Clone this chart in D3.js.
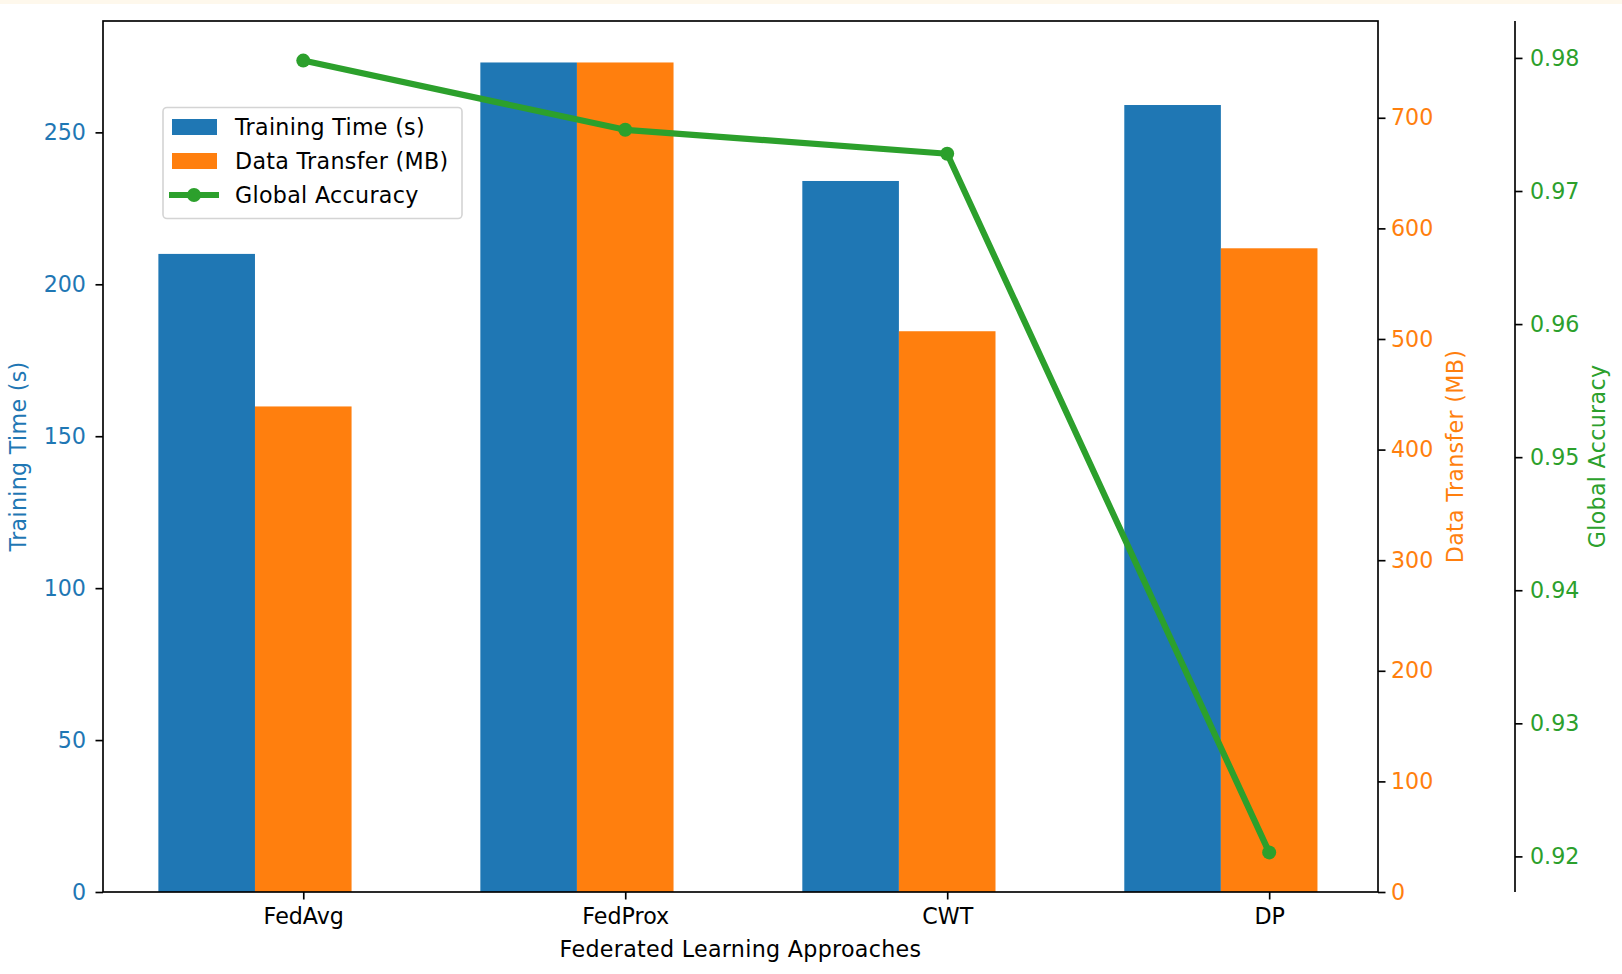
<!DOCTYPE html>
<html>
<head>
<meta charset="utf-8">
<script src="https://cdn.jsdelivr.net/npm/d3@7"></script>
<style>
  html, body { margin: 0; padding: 0; background: #fff; }
  svg { display: block; font-family: "DejaVu Sans", sans-serif; }
</style>
</head>
<body>
<svg id="chart" width="1622" height="974"></svg>
<script>
const approaches = ['FedAvg', 'FedProx', 'CWT', 'DP'];
const trainingTime = [210, 273, 234, 259];
const dataTransfer = [439, 750, 507, 582];
const globalAccuracy = [0.9798, 0.9746, 0.9728, 0.9203];

const timeTicks = [0, 50, 100, 150, 200, 250];
const transferTicks = [0, 100, 200, 300, 400, 500, 600, 700];
const accuracyTicks = [0.92, 0.93, 0.94, 0.95, 0.96, 0.97, 0.98];

const blue = '#1f77b4';
const orange = '#ff7f0e';
const green = '#2ca02c';
const fontSize = 22.2;
const barWidth = 0.3;

const plotLeft = 103, plotRight = 1378, plotTop = 21, plotBottom = 892;
const accAxisX = 1515;

const svg = d3.select('#chart');

// thin cream strip along the top of the page
svg.append('rect')
    .attr('x', 0).attr('y', 0)
    .attr('width', 1622).attr('height', 4)
    .attr('fill', '#fef8ec');

// x: category index, with ~5% margins round the bar extents
const xMin = -barWidth * 1.5, xMax = approaches.length - 1 + barWidth / 2;
const xPad = (xMax - xMin) * 0.05;
const x = d3.scaleLinear()
    .domain([xMin - xPad + 0.008, xMax + xPad + 0.008])
    .range([plotLeft, plotRight]);

const yTime = d3.scaleLinear()
    .domain([0, d3.max(trainingTime) * 1.05])
    .range([plotBottom, plotTop]);

const yTransfer = d3.scaleLinear()
    .domain([0, d3.max(dataTransfer) * 1.05])
    .range([plotBottom, plotTop]);

const accMin = d3.min(globalAccuracy), accMax = d3.max(globalAccuracy);
const accPad = (accMax - accMin) * 0.05;
const yAcc = d3.scaleLinear()
    .domain([accMin - accPad, accMax + accPad])
    .range([plotBottom, plotTop]);

// bars
svg.append('g').selectAll('rect')
    .data(trainingTime)
    .join('rect')
    .attr('x', (d, i) => x(i - barWidth * 1.5))
    .attr('y', d => yTime(d))
    .attr('width', x(barWidth) - x(0))
    .attr('height', d => plotBottom - yTime(d))
    .attr('fill', blue);

svg.append('g').selectAll('rect')
    .data(dataTransfer)
    .join('rect')
    .attr('x', (d, i) => x(i - barWidth / 2))
    .attr('y', d => yTransfer(d))
    .attr('width', x(barWidth) - x(0))
    .attr('height', d => plotBottom - yTransfer(d))
    .attr('fill', orange);

// accuracy line
const line = d3.line()
    .x((d, i) => x(i))
    .y(d => yAcc(d));

svg.append('path')
    .datum(globalAccuracy)
    .attr('d', line)
    .attr('fill', 'none')
    .attr('stroke', green)
    .attr('stroke-width', 6.2)
    .attr('stroke-linejoin', 'round');

svg.append('g').selectAll('circle')
    .data(globalAccuracy)
    .join('circle')
    .attr('cx', (d, i) => x(i))
    .attr('cy', d => yAcc(d))
    .attr('r', 7)
    .attr('fill', green);

// axes
function styleAxis(g, color) {
  g.select('.domain').remove();
  g.selectAll('.tick line').attr('stroke', '#000').attr('stroke-width', 1.67);
  g.selectAll('.tick text')
      .attr('fill', color)
      .style('font-size', fontSize + 'px')
      .style('font-family', '"DejaVu Sans", sans-serif');
}

svg.append('g')
    .attr('transform', `translate(0,${plotBottom})`)
    .call(d3.axisBottom(x)
        .tickValues(d3.range(approaches.length))
        .tickFormat(i => approaches[i])
        .tickSize(7.5)
        .tickPadding(8.5))
    .call(g => styleAxis(g, '#000'));

svg.append('g')
    .attr('transform', `translate(${plotLeft},0)`)
    .call(d3.axisLeft(yTime)
        .tickValues(timeTicks)
        .tickSize(7.5)
        .tickPadding(9.5))
    .call(g => styleAxis(g, blue));

svg.append('g')
    .attr('transform', `translate(${plotRight},0)`)
    .call(d3.axisRight(yTransfer)
        .tickValues(transferTicks)
        .tickSize(7.5)
        .tickPadding(5.5))
    .call(g => styleAxis(g, orange));

svg.append('g')
    .attr('transform', `translate(${accAxisX},0)`)
    .call(d3.axisRight(yAcc)
        .tickValues(accuracyTicks)
        .tickFormat(d3.format('.2f'))
        .tickSize(7.5)
        .tickPadding(7.5))
    .call(g => styleAxis(g, green));

// spines
svg.append('rect')
    .attr('x', plotLeft).attr('y', plotTop)
    .attr('width', plotRight - plotLeft).attr('height', plotBottom - plotTop)
    .attr('fill', 'none')
    .attr('stroke', '#000')
    .attr('stroke-width', 1.67);

svg.append('line')
    .attr('x1', accAxisX).attr('x2', accAxisX)
    .attr('y1', plotTop).attr('y2', plotBottom)
    .attr('stroke', '#000')
    .attr('stroke-width', 1.67);

// axis labels
const midY = (plotTop + plotBottom) / 2;

svg.append('text')
    .attr('x', (plotLeft + plotRight) / 2)
    .attr('y', 956.5)
    .attr('text-anchor', 'middle')
    .style('font-size', fontSize + 'px')
    .style('letter-spacing', '0.3px')
    .attr('fill', '#000')
    .text('Federated Learning Approaches');

[
  {text: 'Training Time (s)', x: 26, color: blue},
  {text: 'Data Transfer (MB)', x: 1463, color: orange},
  {text: 'Global Accuracy', x: 1605, color: green}
].forEach(l => {
  svg.append('text')
      .attr('transform', `translate(${l.x},${midY}) rotate(-90)`)
      .attr('text-anchor', 'middle')
      .style('font-size', fontSize + 'px')
      .style('letter-spacing', '0.3px')
      .attr('fill', l.color)
      .text(l.text);
});

// legend
const legend = svg.append('g');
legend.append('rect')
    .attr('x', 163).attr('y', 107.5)
    .attr('width', 299).attr('height', 111)
    .attr('rx', 4).attr('ry', 4)
    .attr('fill', 'rgba(255,255,255,0.8)')
    .attr('stroke', '#d4d4d4')
    .attr('stroke-width', 1.6);

const legendItems = [
  {label: 'Training Time (s)', type: 'bar', color: blue},
  {label: 'Data Transfer (MB)', type: 'bar', color: orange},
  {label: 'Global Accuracy', type: 'line', color: green}
];

legendItems.forEach((item, i) => {
  const cy = 127 + i * 34;
  if (item.type === 'bar') {
    legend.append('rect')
        .attr('x', 172).attr('y', cy - 8)
        .attr('width', 45).attr('height', 16)
        .attr('fill', item.color);
  } else {
    legend.append('line')
        .attr('x1', 169).attr('x2', 219)
        .attr('y1', cy).attr('y2', cy)
        .attr('stroke', item.color)
        .attr('stroke-width', 6.2);
    legend.append('circle')
        .attr('cx', 194).attr('cy', cy)
        .attr('r', 7)
        .attr('fill', item.color);
  }
  legend.append('text')
      .attr('x', 235)
      .attr('y', cy)
      .attr('dy', '0.35em')
      .style('font-size', fontSize + 'px')
      .style('letter-spacing', '0.3px')
      .attr('fill', '#000')
      .text(item.label);
});
</script>
</body>
</html>
